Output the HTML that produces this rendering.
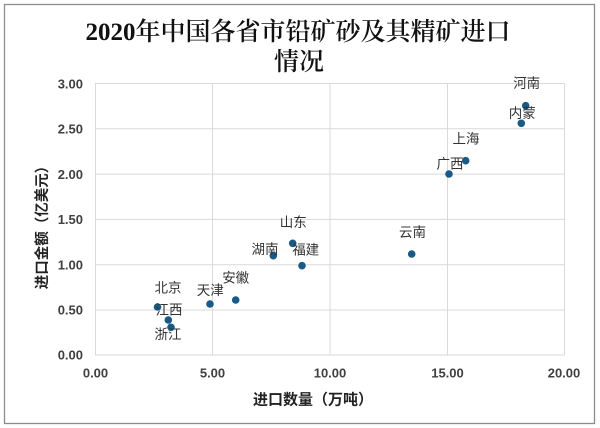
<!DOCTYPE html>
<html>
<head>
<meta charset="utf-8">
<style>
html,body{margin:0;padding:0;background:#fff;}
svg{display:block;}
.tk{font-family:"Liberation Sans","Noto Sans CJK SC",sans-serif;font-weight:bold;font-size:13px;fill:#404040;}
.lb{font-family:"Liberation Sans","Noto Sans CJK SC",sans-serif;font-size:13.5px;fill:#333;}
.ttl{font-family:"Liberation Serif","Noto Serif CJK SC",serif;font-weight:600;font-size:25px;fill:#111;}
.ax{font-family:"Liberation Sans","Noto Sans CJK SC",sans-serif;font-weight:bold;font-size:15px;fill:#222;}
</style>
</head>
<body>
<svg width="600" height="428" viewBox="0 0 600 428" xmlns="http://www.w3.org/2000/svg">
<rect x="0" y="0" width="600" height="428" fill="#fff"/>
<rect x="4.5" y="4.5" width="590" height="419" fill="#fff" stroke="#8c8c8c" stroke-width="1.3"/>
<text x="298" y="32.5" text-anchor="middle" dominant-baseline="central" class="ttl">2020年中国各省市铅矿砂及其精矿进口</text>
<text x="299" y="62.5" text-anchor="middle" dominant-baseline="central" class="ttl">情况</text>

<g stroke="#d9d9d9" stroke-width="1" fill="none">
<line x1="95" y1="83.5" x2="564.5" y2="83.5"/>
<line x1="95" y1="128.8" x2="564.5" y2="128.8"/>
<line x1="95" y1="174.1" x2="564.5" y2="174.1"/>
<line x1="95" y1="219.4" x2="564.5" y2="219.4"/>
<line x1="95" y1="264.7" x2="564.5" y2="264.7"/>
<line x1="95" y1="310" x2="564.5" y2="310"/>
<line x1="95" y1="355" x2="564.5" y2="355"/>
<line x1="95.5" y1="83.5" x2="95.5" y2="355"/>
<line x1="212.5" y1="83.5" x2="212.5" y2="355"/>
<line x1="330" y1="83.5" x2="330" y2="355"/>
<line x1="447.5" y1="83.5" x2="447.5" y2="355"/>
<line x1="564.5" y1="83.5" x2="564.5" y2="355"/>
</g>

<g class="tk" text-anchor="end">
<text x="83" y="84" dominant-baseline="central">3.00</text>
<text x="83" y="129" dominant-baseline="central">2.50</text>
<text x="83" y="174.5" dominant-baseline="central">2.00</text>
<text x="83" y="219.5" dominant-baseline="central">1.50</text>
<text x="83" y="265" dominant-baseline="central">1.00</text>
<text x="83" y="310" dominant-baseline="central">0.50</text>
<text x="83" y="355" dominant-baseline="central">0.00</text>
</g>
<g class="tk" text-anchor="middle">
<text x="95.5" y="373" dominant-baseline="central">0.00</text>
<text x="212.5" y="373" dominant-baseline="central">5.00</text>
<text x="330" y="373" dominant-baseline="central">10.00</text>
<text x="447.5" y="373" dominant-baseline="central">15.00</text>
<text x="564" y="373" dominant-baseline="central">20.00</text>
</g>

<text x="313" y="400" text-anchor="middle" dominant-baseline="central" class="ax">进口数量（万吨）</text>
<text transform="translate(43,224) rotate(-90)" text-anchor="middle" dominant-baseline="central" class="ax" style="font-size:14.5px">进口金额（亿美元）</text>

<g fill="#195a86">
<circle cx="525.7" cy="105.7" r="3.8"/>
<circle cx="521.3" cy="123.3" r="3.8"/>
<circle cx="465.7" cy="160.7" r="3.8"/>
<circle cx="449" cy="174" r="3.8"/>
<circle cx="411.7" cy="254" r="3.8"/>
<circle cx="292.7" cy="243.3" r="3.8"/>
<circle cx="273.3" cy="255.7" r="3.8"/>
<circle cx="302" cy="265.7" r="3.8"/>
<circle cx="235.7" cy="300" r="3.8"/>
<circle cx="210" cy="304" r="3.8"/>
<circle cx="157.5" cy="307" r="3.8"/>
<circle cx="168.3" cy="320" r="3.8"/>
<circle cx="171" cy="327.3" r="3.8"/>
</g>

<g class="lb" text-anchor="middle">
<text x="526.7" y="83.5" dominant-baseline="central">河南</text>
<text x="522.3" y="113.5" dominant-baseline="central">内蒙</text>
<text x="466" y="139" dominant-baseline="central">上海</text>
<text x="450" y="164" dominant-baseline="central">广西</text>
<text x="412.5" y="232.3" dominant-baseline="central">云南</text>
<text x="293.3" y="222.7" dominant-baseline="central">山东</text>
<text x="265" y="249.5" dominant-baseline="central">湖南</text>
<text x="305.7" y="250" dominant-baseline="central">福建</text>
<text x="235.7" y="278.2" dominant-baseline="central">安徽</text>
<text x="210.3" y="290.7" dominant-baseline="central">天津</text>
<text x="168" y="288" dominant-baseline="central">北京</text>
<text x="169" y="310" dominant-baseline="central">江西</text>
<text x="168" y="334.5" dominant-baseline="central">浙江</text>
</g>
</svg>
</body>
</html>
